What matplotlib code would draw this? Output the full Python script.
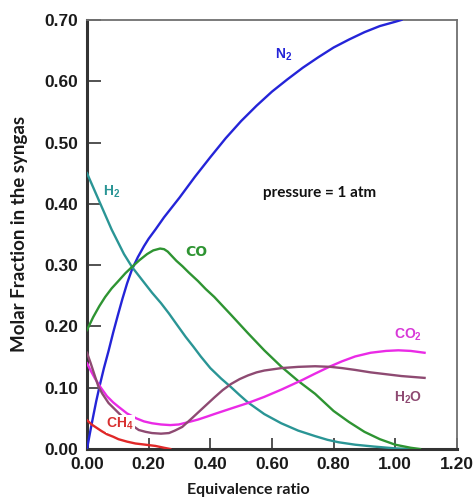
import matplotlib
matplotlib.use("Agg")
import matplotlib.pyplot as plt

plt.rcParams['mathtext.fontset'] = 'custom'
plt.rcParams['mathtext.bf'] = 'Liberation Sans:bold'
plt.rcParams['mathtext.rm'] = 'Liberation Sans:bold'

# Data (equivalence ratio vs molar fraction)
n2_x = [0, 0.01, 0.02, 0.03, 0.042, 0.055, 0.07, 0.085, 0.1, 0.115, 0.13, 0.146, 0.165, 0.185,
        0.2, 0.222, 0.25, 0.3, 0.35, 0.4, 0.45, 0.5, 0.55, 0.6, 0.65, 0.7, 0.75, 0.8, 0.85,
        0.9, 0.95, 1.0, 1.02]
n2_y = [0, 0.027, 0.053, 0.078, 0.105, 0.132, 0.16, 0.19, 0.218, 0.245, 0.27, 0.293, 0.313, 0.331,
        0.343, 0.358, 0.378, 0.41, 0.444, 0.476, 0.507, 0.535, 0.56, 0.583, 0.603, 0.622, 0.639, 0.655, 0.668,
        0.68, 0.69, 0.697, 0.70]

h2_x = [0, 0.02, 0.04, 0.06, 0.08, 0.1, 0.12, 0.146, 0.18, 0.211, 0.24, 0.266, 0.29, 0.32,
        0.345, 0.369, 0.4, 0.435, 0.467, 0.495, 0.522, 0.575, 0.63, 0.685, 0.74, 0.78, 0.816, 0.87,
        0.93, 1.0, 1.05]
h2_y = [0.45, 0.427, 0.404, 0.381, 0.358, 0.338, 0.318, 0.297, 0.275, 0.255, 0.238, 0.221, 0.204, 0.183,
        0.167, 0.151, 0.132, 0.115, 0.101, 0.088, 0.076, 0.057, 0.042, 0.03, 0.021, 0.015, 0.011, 0.007,
        0.004, 0.001, 0.0]

co_x = [0, 0.02, 0.04, 0.059, 0.08, 0.1, 0.125, 0.146, 0.17, 0.195, 0.215, 0.237, 0.25, 0.262, 0.275,
        0.29, 0.31, 0.33, 0.36, 0.385, 0.413, 0.467, 0.522, 0.575, 0.631, 0.685, 0.74, 0.8, 0.85, 0.9,
        0.95, 1.0, 1.05, 1.08]
co_y = [0.194, 0.215, 0.233, 0.248, 0.262, 0.273, 0.287, 0.297, 0.308, 0.318, 0.324, 0.327, 0.326, 0.322, 0.315,
        0.307, 0.298, 0.288, 0.274, 0.261, 0.248, 0.219, 0.189, 0.161, 0.134, 0.111, 0.09, 0.062, 0.044, 0.028,
        0.016, 0.007, 0.002, 0.0]

ch4_x = [0, 0.015, 0.03, 0.048, 0.065, 0.085, 0.102, 0.13, 0.157, 0.19, 0.222, 0.25, 0.27]
ch4_y = [0.047, 0.04, 0.035, 0.029, 0.024, 0.02, 0.016, 0.012, 0.009, 0.007, 0.005, 0.002, 0.0]

co2_x = [0, 0.013, 0.026, 0.045, 0.065, 0.085, 0.102, 0.13, 0.16, 0.185, 0.211, 0.24, 0.27, 0.298,
         0.33, 0.36, 0.39, 0.413, 0.467, 0.522, 0.575, 0.631, 0.696, 0.74, 0.79, 0.827, 0.87, 0.92,
         0.97, 1.01, 1.05, 1.095]
co2_y = [0.14, 0.127, 0.115, 0.1, 0.086, 0.076, 0.069, 0.058, 0.05, 0.045, 0.042, 0.04, 0.039, 0.04,
         0.044, 0.048, 0.053, 0.057, 0.066, 0.075, 0.085, 0.097, 0.112, 0.123, 0.135, 0.143, 0.151, 0.157,
         0.16, 0.161, 0.16, 0.157]

h2o_x = [0, 0.012, 0.025, 0.037, 0.05, 0.07, 0.092, 0.12, 0.145, 0.168, 0.19, 0.211, 0.24, 0.266,
         0.285, 0.309, 0.34, 0.37, 0.413, 0.44, 0.467, 0.495, 0.522, 0.55, 0.575, 0.631, 0.685, 0.74, 0.79,
         0.827, 0.87, 0.92, 0.97, 1.02, 1.095]
h2o_y = [0.157, 0.14, 0.12, 0.102, 0.09, 0.075, 0.064, 0.05, 0.039, 0.031, 0.028, 0.026, 0.025, 0.026,
         0.03, 0.036, 0.05, 0.064, 0.084, 0.096, 0.106, 0.114, 0.12, 0.125, 0.128, 0.132, 0.134, 0.135, 0.134,
         0.132, 0.129, 0.125, 0.122, 0.119, 0.116]

x_ticks = [0.0, 0.2, 0.4, 0.6, 0.8, 1.0, 1.2]
y_ticks = [0.0, 0.1, 0.2, 0.3, 0.4, 0.5, 0.6, 0.7]

fig = plt.figure(figsize=(4.74, 4.98), dpi=100)
ax = fig.add_axes([0.1835, 0.0984, 0.964 - 0.1835, 0.960 - 0.0984])

lw = 1.7
ax.plot(n2_x, n2_y, color='#2424D8', lw=lw, zorder=3)
ax.plot(h2_x, h2_y, color='#2A9595', lw=lw, zorder=3)
ax.plot(co_x, co_y, color='#2E9432', lw=lw, zorder=3)
ax.plot(ch4_x, ch4_y, color='#E02828', lw=lw, zorder=3)
ax.plot(co2_x, co2_y, color='#EA2AE6', lw=lw, zorder=3)
ax.plot(h2o_x, h2o_y, color='#8E4A72', lw=lw, zorder=3)

lab_kw = dict(fontsize=10, fontweight='bold', ha='center', va='center', zorder=5)
ax.text(0.637, 0.643, r'$\mathbf{N_2}$', color='#2424D8', **lab_kw)
ax.text(0.08, 0.42, r'$\mathbf{H_2}$', color='#2A9595', **lab_kw)
ax.text(0.355, 0.322, 'CO', color='#2E9432', **lab_kw)
ax.text(0.108, 0.041, r'$\mathbf{CH_4}$', color='#D83030',
        bbox=dict(facecolor='white', edgecolor='none', pad=0.5), **lab_kw)
ax.text(1.04, 0.186, r'$\mathbf{CO_2}$', color='#D838D8', **lab_kw)
ax.text(1.04, 0.083, r'$\mathbf{H_2O}$', color='#8E4A72', **lab_kw)
ax.text(0.755, 0.418, 'pressure = 1 atm', color='#111111', fontsize=11,
        fontweight='bold', family='Lato', ha='center', va='center')

ax.set_xlim(0, 1.2)
ax.set_ylim(0, 0.7)
ax.set_xticks(x_ticks)
ax.set_yticks(y_ticks)
ax.set_xticklabels([f'{v:.2f}' for v in x_ticks], fontsize=12.5, fontweight='bold', family='Liberation Sans')
ax.set_yticklabels([f'{v:.2f}' for v in y_ticks], fontsize=12.5, fontweight='bold', family='Liberation Sans')
ax.tick_params(axis='y', direction='in', length=10, width=1.3, color='#444444', pad=6.5, labelcolor='#1a1a1a')
ax.tick_params(axis='x', direction='in', length=8, width=1.3, color='#444444', pad=5.5, labelcolor='#1a1a1a')

for s in ['left', 'bottom']:
    ax.spines[s].set_color('#333333')
    ax.spines[s].set_linewidth(2.2)
for s in ['top', 'right']:
    ax.spines[s].set_color('#707070')
    ax.spines[s].set_linewidth(1.3)

fig.text(248 / 474, 4 / 498, 'Equivalence ratio', fontsize=11.5, fontweight='bold', family='Lato',
         ha='center', va='baseline', color='#1a1a1a')
fig.text(20 / 474, 1 - 234 / 498, 'Molar Fraction in the syngas', fontsize=13.5, fontweight='bold',
         family='Lato', rotation=90, ha='center', va='center', color='#1a1a1a')

fig.savefig('out.png', dpi=100)
